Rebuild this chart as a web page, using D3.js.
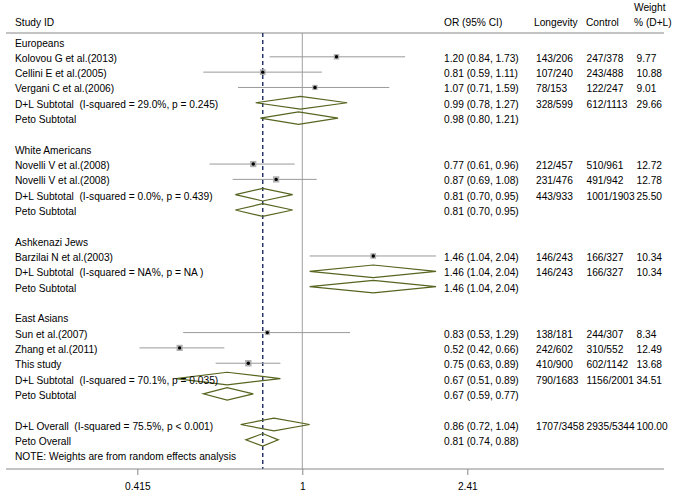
<!DOCTYPE html>
<html><head><meta charset="utf-8">
<script src="https://cdn.jsdelivr.net/npm/d3@7"></script>
<style>body{margin:0;background:#fff}svg{display:block}text{font-family:"Liberation Sans",Arial,sans-serif;font-size:10.2px;fill:#000;white-space:pre}</style>
</head><body><svg id="c" width="683" height="496"></svg>
<script>
const labels = ["Europeans","Kolovou G et al.(2013)","Cellini E et al.(2005)","Vergani C et al.(2006)","D+L Subtotal  (I-squared = 29.0%, p = 0.245)","Peto Subtotal","",
"White Americans","Novelli V et al.(2008)","Novelli V et al.(2008)","D+L Subtotal  (I-squared = 0.0%, p = 0.439)","Peto Subtotal","",
"Ashkenazi Jews","Barzilai N et al.(2003)","D+L Subtotal  (I-squared = NA%, p = NA )","Peto Subtotal","",
"East Asians","Sun et al.(2007)","Zhang et al.(2011)","This study","D+L Subtotal  (I-squared = 70.1%, p = 0.035)","Peto Subtotal","",
"D+L Overall  (I-squared = 75.5%, p < 0.001)","Peto Overall","NOTE: Weights are from random effects analysis"];
const kinds = ["g","s","s","s","d","d","","g","s","s","d","d","","g","s","d","d","","g","s","s","s","d","d","","d","d","n"];
const orVals = [null,1.20,0.81,1.07,0.99,0.98,null,null,0.77,0.87,0.81,0.81,null,null,1.46,1.46,1.46,null,null,0.83,0.52,0.75,0.67,0.67,null,0.86,0.81,null];
const loVals = [null,0.84,0.59,0.71,0.78,0.80,null,null,0.61,0.69,0.70,0.70,null,null,1.04,1.04,1.04,null,null,0.53,0.42,0.63,0.51,0.59,null,0.72,0.74,null];
const hiVals = [null,1.73,1.11,1.59,1.27,1.21,null,null,0.96,1.08,0.95,0.95,null,null,2.04,2.04,2.04,null,null,1.29,0.66,0.89,0.89,0.77,null,1.04,0.88,null];
const longevity = ["","143/206","107/240","78/153","328/599","","","","212/457","231/476","443/933","","","","146/243","146/243","","","","138/181","242/602","410/900","790/1683","","","1707/3458","",""];
const control = ["","247/378","243/488","122/247","612/1113","","","","510/961","491/942","1001/1903","","","","166/327","166/327","","","","244/307","310/552","602/1142","1156/2001","","","2935/5344","",""];
const weights = [null,9.77,10.88,9.01,29.66,null,null,null,12.72,12.78,25.50,null,null,null,10.34,10.34,null,null,null,8.34,12.49,13.68,34.51,null,null,100.00,null,null];
const tickVals = [0.415, 1, 2.41];
const headers = ["Study ID","OR (95% CI)","Longevity","Control"];
const overallPeto = 0.81;

const svg = d3.select("#c");
const x = d3.scaleLog().domain([0.415, 2.41]).range([137.3, 467.3]);
const y = d3.scaleLinear().domain([0, 27]).range([41.5, 41.5 + 15.32*27]);
const topY = 33, axisY = 469;
const fmt = d3.format(".2f");
const colOR = 444, colL = 536, colC = 586.5, colW = 636.5, colLab = 15;

// header
const hx = [colLab, colOR, 534, 586];
svg.selectAll("text.h").data(headers).join("text").attr("class","h").attr("x",(d,i)=>hx[i]).attr("y",26).text(d=>d);
svg.append("text").attr("x",634).attr("y",11).text("Weight");
svg.append("text").attr("x",634).attr("y",26).text("% (D+L)");
svg.append("line").attr("x1",6).attr("x2",664).attr("y1",topY).attr("y2",topY).attr("stroke","#888").attr("stroke-width",1);

// reference lines
svg.append("line").attr("x1",x(1)).attr("x2",x(1)).attr("y1",topY).attr("y2",axisY).attr("stroke","#a0a0a0").attr("stroke-width",1);
svg.append("line").attr("x1",x(overallPeto)).attr("x2",x(overallPeto)).attr("y1",topY).attr("y2",axisY).attr("stroke","#1c2b63").attr("stroke-width",1.4).attr("stroke-dasharray","4,3");

const rows = labels.map((l,i)=>({i,l,k:kinds[i],or:orVals[i],lo:loVals[i],hi:hiVals[i],lg:longevity[i],ct:control[i],w:weights[i]}));

// CI lines and study markers
rows.filter(r=>r.k==="s").forEach(r=>{
  svg.append("line").attr("x1",x(r.lo)).attr("x2",x(r.hi)).attr("y1",y(r.i)).attr("y2",y(r.i)).attr("stroke","#9a9a9a").attr("stroke-width",1);
  const s = 1.75*Math.sqrt(r.w);
  svg.append("rect").attr("x",x(r.or)-s/2).attr("y",y(r.i)-s/2).attr("width",s).attr("height",s).attr("fill","#b0b0b0");
  svg.append("circle").attr("cx",x(r.or)).attr("cy",y(r.i)).attr("r",1.7).attr("fill","#000");
});
// diamonds
rows.filter(r=>r.k==="d").forEach(r=>{
  const cy=y(r.i), h=6.3;
  svg.append("path").attr("d",`M${x(r.lo)},${cy}L${x(r.or)},${cy-h}L${x(r.hi)},${cy}L${x(r.or)},${cy+h}Z`)
    .attr("fill","none").attr("stroke","#56651f").attr("stroke-width",1.2);
});

// texts
rows.forEach(r=>{
  const ty = y(r.i)+5;
  if(r.l) svg.append("text").attr("x",colLab).attr("y",ty).text(r.l);
  if(r.or!=null) svg.append("text").attr("x",colOR).attr("y",ty).text(`${fmt(r.or)} (${fmt(r.lo)}, ${fmt(r.hi)})`);
  if(r.lg) svg.append("text").attr("x",colL).attr("y",ty).text(r.lg);
  if(r.ct) svg.append("text").attr("x",colC).attr("y",ty).text(r.ct);
  if(r.w!=null) svg.append("text").attr("x",colW).attr("y",ty).text(fmt(r.w));
});

// axis
svg.append("line").attr("x1",6).attr("x2",664).attr("y1",axisY).attr("y2",axisY).attr("stroke","#888");
const ax = d3.axisBottom(x).tickValues(tickVals).tickFormat(d=>String(d)).tickSize(6).tickPadding(8);
const g = svg.append("g").attr("transform",`translate(0,${axisY})`).call(ax);
g.select(".domain").remove();
g.selectAll(".tick line").attr("stroke","#888");
g.selectAll(".tick text").style("font-family","Liberation Sans, Arial, sans-serif").style("font-size","10.2px").attr("fill","#000");
</script></body></html>
